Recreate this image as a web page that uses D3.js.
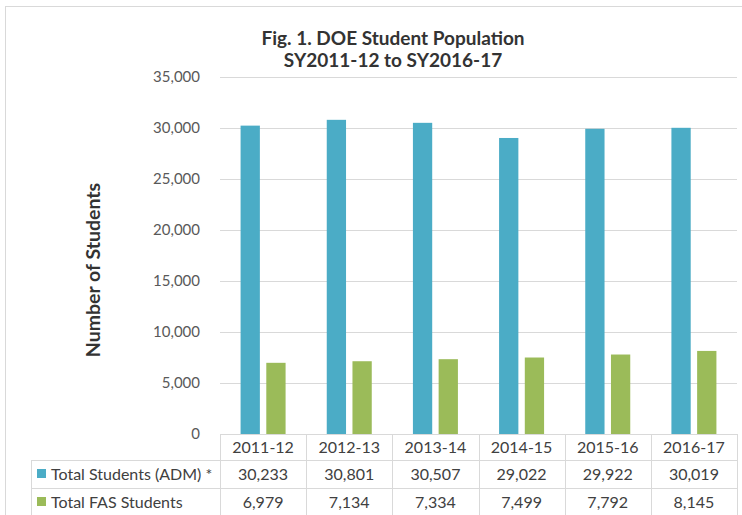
<!DOCTYPE html>
<html lang="en">
<head>
  <meta charset="utf-8" />
  <title>Fig. 1. DOE Student Population</title>
  <script src="https://unpkg.com/d3@7.9.0/dist/d3.min.js"></script>
  <style>
    html,body{margin:0;padding:0;background:#fff;}
    svg{display:block;font-family:Lato,"Open Sans",sans-serif;}
  </style>
</head>
<body>
<svg id="svg" width="742" height="515"></svg>
<script>
// data
const years = ['2011-12','2012-13','2013-14','2014-15','2015-16','2016-17'];
const seriesNames = ['Total Students (ADM) *','Total FAS Students'];
const admValues = [30233,30801,30507,29022,29922,30019];
const fasValues = [6979,7134,7334,7499,7792,8145];
const yTicks = [0,5000,10000,15000,20000,25000,30000,35000];
const colors = ['#4bacc6','#9bbb59'];

const W = 742, H = 515;
const plot = {left:220, right:737, top:77, bottom:434};
const rowLeft = 31;
const rows = [434, 460, 488, 516]; // table row boundaries

const svg = d3.select('#svg');

// chart frame
svg.append('rect').attr('x',5.5).attr('y',6.5).attr('width',W).attr('height',H)
  .attr('fill','none').attr('stroke','#d9d9d9');

// title
const title = svg.append('text').attr('text-anchor','middle').attr('fill','#333')
  .attr('font-weight','bold').attr('font-size',19);
title.append('tspan').attr('x',393).attr('y',45).text('Fig. 1. DOE Student Population');
title.append('tspan').attr('x',393).attr('y',67).text('SY2011-12 to SY2016-17');

const x = d3.scaleBand().domain(years).range([plot.left, plot.right]);
const xs = d3.scaleBand().domain(seriesNames).range([-22.5, 22.5]).paddingInner(0.25);
const y = d3.scaleLinear().domain([0,35000]).range([plot.bottom, plot.top]);

// gridlines + y ticks
const yAxis = d3.axisLeft(y).tickValues(yTicks).tickFormat(d3.format(',')).tickSize(0).tickPadding(20);
const gy = svg.append('g').attr('transform',`translate(${plot.left},0)`).call(yAxis);
gy.select('.domain').remove();
gy.selectAll('text').attr('font-size',15).attr('fill','#595959').attr('font-family','Lato,sans-serif');
svg.append('g').selectAll('line').data(yTicks.filter(d=>d>0)).join('line')
  .attr('x1',plot.left).attr('x2',plot.right)
  .attr('y1',d=>Math.round(y(d))+0.5).attr('y2',d=>Math.round(y(d))+0.5)
  .attr('stroke','#d9d9d9').attr('stroke-width',1.2);

// y axis title
svg.append('text').attr('transform','translate(100,270) rotate(-90)')
  .attr('text-anchor','middle').attr('font-weight','bold').attr('font-size',19.5)
  .attr('fill','#333').text('Number of Students');

// bars
const table = [admValues, fasValues];
const gBars = svg.append('g');
seriesNames.forEach((s,i)=>{
  gBars.selectAll(`rect.s${i}`).data(years).join('rect')
    .attr('class',`s${i}`)
    .attr('x',d=>x(d)+x.bandwidth()/2+xs(s))
    .attr('width',xs.bandwidth())
    .attr('y',(d,j)=>y(table[i][j]))
    .attr('height',(d,j)=>y(0)-y(table[i][j]))
    .attr('fill',colors[i]);
});

// data table
const gt = svg.append('g');
const lineColor = '#d9d9d9';
gt.append('line').attr('x1',plot.left).attr('x2',plot.right).attr('y1',rows[0]+0.5).attr('y2',rows[0]+0.5).attr('stroke',lineColor);
rows.slice(1).forEach(r=>{
  gt.append('line').attr('x1',rowLeft).attr('x2',plot.right).attr('y1',r+0.5).attr('y2',r+0.5).attr('stroke',lineColor);
});
[plot.left, ...years.map(d=>x(d)+x.bandwidth())].forEach(v=>{
  gt.append('line').attr('x1',Math.round(v)+0.5).attr('x2',Math.round(v)+0.5)
    .attr('y1',rows[0]).attr('y2',rows[3]).attr('stroke',lineColor);
});
gt.append('line').attr('x1',rowLeft+0.5).attr('x2',rowLeft+0.5).attr('y1',rows[1]).attr('y2',rows[3]).attr('stroke',lineColor);

// header labels
gt.selectAll('text.hdr').data(years).join('text').attr('class','hdr')
  .attr('x',d=>x(d)+x.bandwidth()/2).attr('y',(rows[0]+rows[1])/2+6)
  .attr('text-anchor','middle').attr('font-size',16).attr('fill','#404040').text(d=>d);

// rows
seriesNames.forEach((s,i)=>{
  const cy = (rows[i+1]+rows[i+2])/2;
  gt.append('rect').attr('x',rowLeft+6).attr('y',cy-5).attr('width',9).attr('height',9).attr('fill',colors[i]);
  gt.append('text').attr('x',rowLeft+20).attr('y',cy+6).attr('font-size',16).attr('fill','#404040').text(s);
  gt.selectAll(`text.v${i}`).data(table[i]).join('text').attr('class',`v${i}`)
    .attr('x',(d,j)=>x(years[j])+x.bandwidth()/2).attr('y',cy+6)
    .attr('text-anchor','middle').attr('font-size',16).attr('fill','#404040')
    .text(d=>d3.format(',')(d));
});
</script>
</body>
</html>
